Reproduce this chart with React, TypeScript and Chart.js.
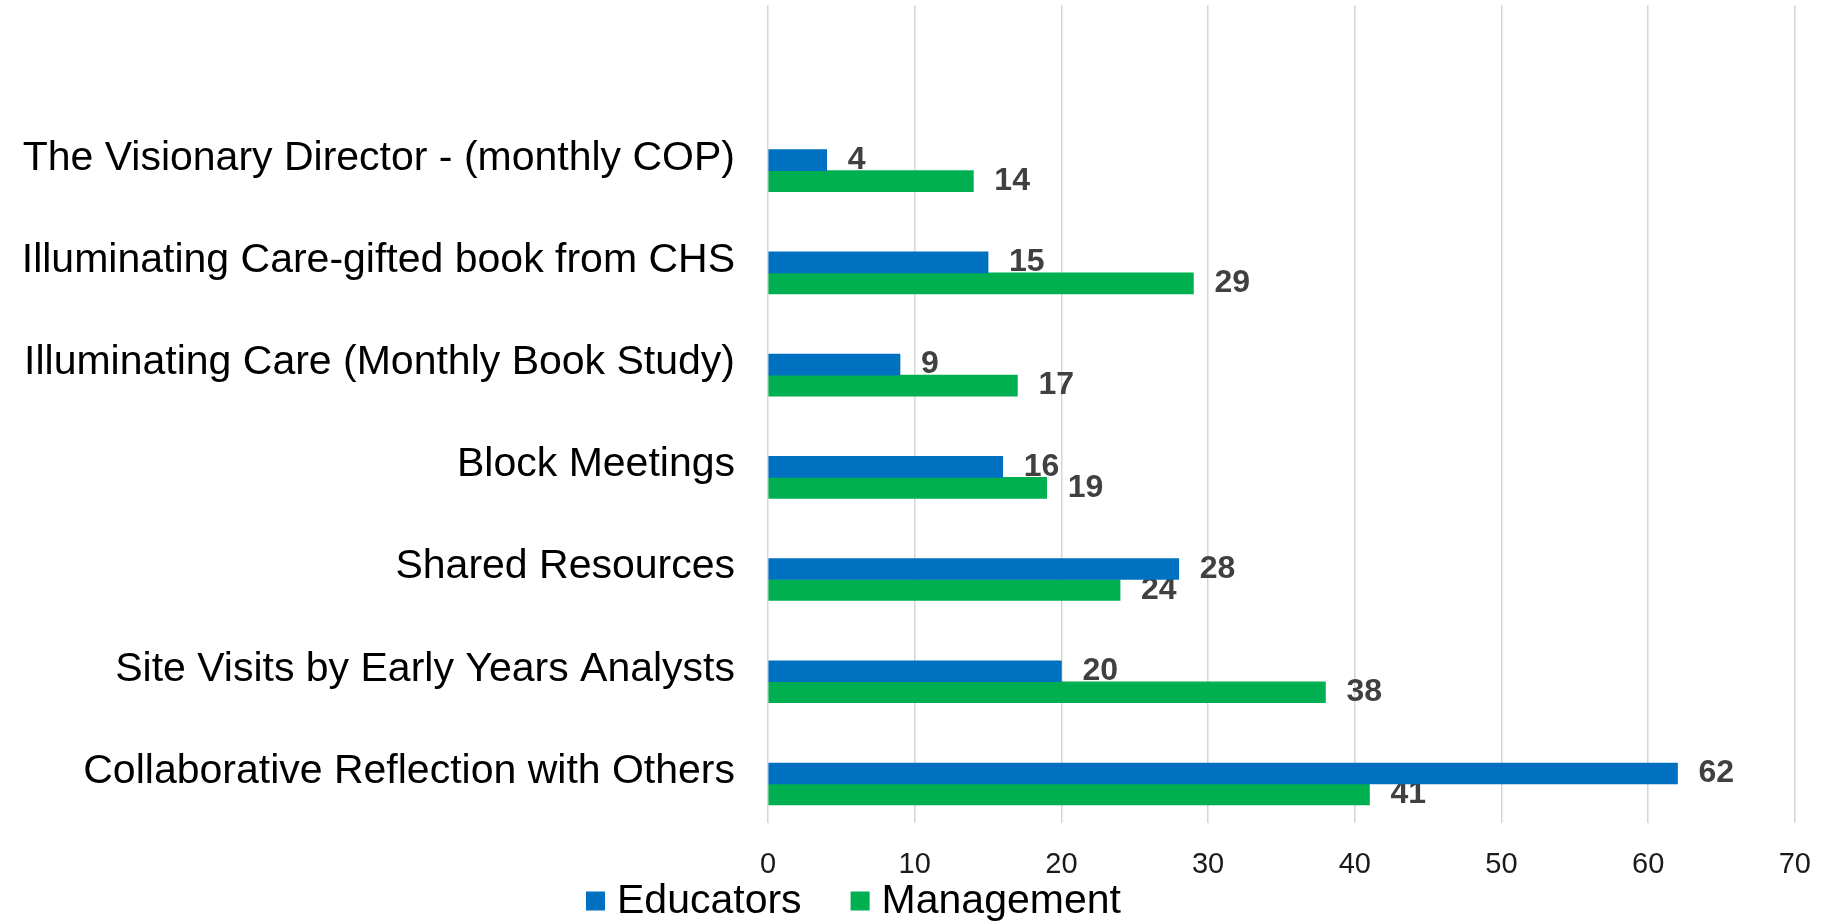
import React, { useEffect, useRef } from "react";
import { Chart, registerables } from "chart.js";

Chart.register(...registerables);

// ---- data ----
const categories = [
  "The Visionary Director - (monthly COP)",
  "Illuminating Care-gifted book from CHS",
  "Illuminating Care (Monthly Book Study)",
  "Block Meetings",
  "Shared Resources",
  "Site Visits by Early Years Analysts",
  "Collaborative Reflection with Others",
];
const educators = [4, 15, 9, 16, 28, 20, 62];
const management = [14, 29, 17, 19, 24, 38, 41];
const seriesNames = ["Educators", "Management"];
const seriesColors = ["#0070C0", "#00B050"];
const xMin = 0;
const xMax = 70;
const xStep = 10;

const FONT = "'Liberation Sans', Arial, Helvetica, sans-serif";

const valueLabels = {
  id: "valueLabels",
  beforeDatasetsDraw(chart: any) {
    const ctx = chart.ctx;
    ctx.save();
    ctx.font = `bold 32px ${FONT}`;
    ctx.fillStyle = "#404040";
    ctx.textAlign = "left";
    ctx.textBaseline = "middle";
    chart.data.datasets.forEach((ds: any, di: number) => {
      const meta = chart.getDatasetMeta(di);
      meta.data.forEach((el: any, i: number) => {
        const v = ds.data[i].x;
        ctx.fillText(String(v), el.x + 21, el.y);
      });
    });
    ctx.restore();
  },
};

const customLegend = {
  id: "customLegend",
  afterDraw(chart: any) {
    const ctx = chart.ctx;
    ctx.save();
    ctx.font = `41px ${FONT}`;
    ctx.textBaseline = "middle";
    ctx.textAlign = "left";
    const cy = 901;
    let x = 586;
    const box = 19;
    chart.data.datasets.forEach((ds: any) => {
      ctx.fillStyle = ds.backgroundColor;
      ctx.fillRect(x, cy - box / 2, box, box);
      x += box + 12;
      ctx.fillStyle = "#000000";
      ctx.fillText(ds.label, x, cy + 1);
      x += ctx.measureText(ds.label).width + 49;
    });
    ctx.restore();
  },
};

export default function App() {
  const ref = useRef<HTMLCanvasElement | null>(null);

  useEffect(() => {
    if (!ref.current) return;
    const series = [educators, management];
    const chart = new Chart(ref.current, {
      type: "bar",
      data: {
        datasets: series.map((vals, si) => ({
          label: seriesNames[si],
          data: vals.map((v, i) => ({ x: v, y: i })),
          backgroundColor: seriesColors[si],
          borderWidth: 0,
          barThickness: 21,
        })),
      },
      plugins: [valueLabels, customLegend],
      options: {
        indexAxis: "y",
        animation: false,
        responsive: true,
        maintainAspectRatio: false,
        layout: { padding: { top: 5, right: 35, bottom: 0, left: 0 } },
        plugins: {
          legend: { display: false },
          tooltip: { enabled: false },
        },
        scales: {
          x: {
            type: "linear",
            position: "bottom",
            min: xMin,
            max: xMax,
            border: { display: false },
            grid: {
              color: "#d6d6d6",
              lineWidth: 1.5,
              drawTicks: false,
            },
            ticks: {
              stepSize: xStep,
              padding: 25,
              color: "#1a1a1a",
              font: { family: FONT, size: 29 },
            },
            afterFit: (scale: any) => {
              scale.height = 99.3;
            },
          },
          y: {
            type: "linear",
            reverse: true,
            offset: false,
            min: -1.621,
            max: 6.379,
            border: { display: false },
            grid: { display: false, drawTicks: false, offset: false },
            afterBuildTicks: (scale: any) => {
              scale.ticks = categories.map((_, i) => ({ value: i }));
            },
            ticks: {
              autoSkip: false,
              padding: 33,
              labelOffset: -12.4,
              color: "#000000",
              font: { family: FONT, size: 41 },
              callback: (val: any) => categories[Math.round(Number(val))] ?? "",
            },
            afterFit: (scale: any) => {
              scale.width = 768;
              scale.paddingTop = 0;
              scale.paddingBottom = 0;
            },
          },
        },
      } as any,
    });
    return () => chart.destroy();
  }, []);

  return (
    <div
      style={{
        position: "fixed",
        left: 0,
        top: 0,
        width: 1836,
        height: 922,
        background: "#ffffff",
      }}
    >
      <canvas ref={ref} />
    </div>
  );
}
